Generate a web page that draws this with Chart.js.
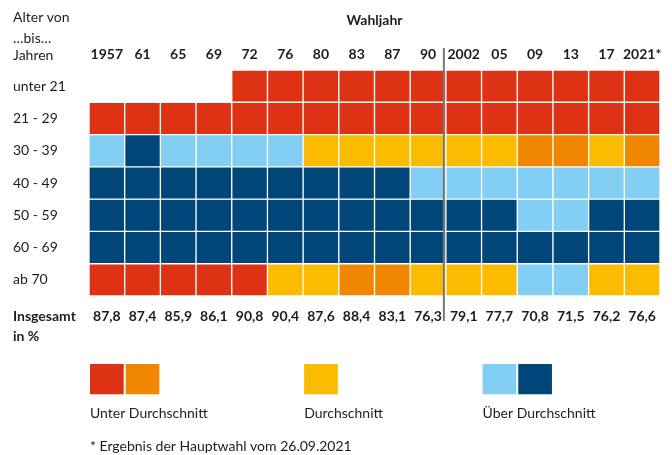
<!DOCTYPE html>
<html lang="de">
<head>
<meta charset="utf-8">
<title>Wahlbeteiligung nach Altersgruppen</title>
<script src="https://cdn.jsdelivr.net/npm/chart.js@4/dist/chart.umd.min.js"></script>
<style>
  html, body { margin: 0; padding: 0; background: #fff; }
  #wrap { width: 672px; height: 455px; }
</style>
</head>
<body>
<div id="wrap"><canvas id="chart" width="672" height="455"></canvas></div>
<script>
const YEARS = ['1957', '61', '65', '69', '72', '76', '80', '83', '87', '90', '2002', '05', '09', '13', '17', '2021*'];
const AGE_GROUPS = ['unter 21', '21 - 29', '30 - 39', '40 - 49', '50 - 59', '60 - 69', 'ab 70'];
const TOTALS = ['87,8', '87,4', '85,9', '86,1', '90,8', '90,4', '87,6', '88,4', '83,1', '76,3', '79,1', '77,7', '70,8', '71,5', '76,2', '76,6'];

// R/O = unter Durchschnitt, Y = Durchschnitt, L/D = über Durchschnitt, null = keine Wahlberechtigung
const ROW_U21   = [null, null, null, null, 'R', 'R', 'R', 'R', 'R', 'R', 'R', 'R', 'R', 'R', 'R', 'R'];
const ROW_21_29 = ['R', 'R', 'R', 'R', 'R', 'R', 'R', 'R', 'R', 'R', 'R', 'R', 'R', 'R', 'R', 'R'];
const ROW_30_39 = ['L', 'D', 'L', 'L', 'L', 'L', 'Y', 'Y', 'Y', 'Y', 'Y', 'Y', 'O', 'O', 'Y', 'O'];
const ROW_40_49 = ['D', 'D', 'D', 'D', 'D', 'D', 'D', 'D', 'D', 'L', 'L', 'L', 'L', 'L', 'L', 'L'];
const ROW_50_59 = ['D', 'D', 'D', 'D', 'D', 'D', 'D', 'D', 'D', 'D', 'D', 'D', 'L', 'L', 'D', 'D'];
const ROW_60_69 = ['D', 'D', 'D', 'D', 'D', 'D', 'D', 'D', 'D', 'D', 'D', 'D', 'D', 'D', 'D', 'D'];
const ROW_AB_70 = ['R', 'R', 'R', 'R', 'R', 'Y', 'Y', 'O', 'O', 'Y', 'Y', 'Y', 'L', 'L', 'Y', 'Y'];
const ROWS = [ROW_U21, ROW_21_29, ROW_30_39, ROW_40_49, ROW_50_59, ROW_60_69, ROW_AB_70];

const LEGEND_LABELS = ['Unter Durchschnitt', 'Durchschnitt', 'Über Durchschnitt'];
const LEGEND_CODES = [['R', 'O'], ['Y'], ['L', 'D']];

const COLORS = { R: '#dd3214', O: '#f18700', Y: '#fbbb00', L: '#82cff3', D: '#004678' };
const FONT = "Lato, 'Liberation Sans', sans-serif";
const TEXT = '#1d1d1b';

Chart.defaults.font.family = FONT;
Chart.defaults.font.size = 14;
Chart.defaults.color = TEXT;

// every cell is one unit of the stack; empty cells stay in place but invisible
const datasets = ROWS.map((row, i) => ({
    label: AGE_GROUPS[i],
    data: row.map(() => 1),
    backgroundColor: row.map(c => (c ? COLORS[c] : 'transparent')),
    borderColor: row.map(c => (c ? '#ffffff' : 'transparent')),
    borderWidth: 1,
    borderSkipped: false,
    barPercentage: 1,
    categoryPercentage: 1
}));

const noGrid = { display: false, drawTicks: false };

// text, separator and legend drawn around the grid
const extras = {
    id: 'extras',
    afterDatasetsDraw(chart) {
        const { ctx, chartArea, scales: { x, y } } = chart;
        const top = chartArea.top, bottom = chartArea.bottom;
        ctx.save();

        // line between 1990 and 2002
        const sepX = x.getPixelForValue(YEARS.indexOf('90') + 0.5) - 2;
        ctx.strokeStyle = '#787878';
        ctx.lineWidth = 2;
        ctx.beginPath();
        ctx.moveTo(sepX, top - 22);
        ctx.lineTo(sepX, bottom + 25);
        ctx.stroke();

        ctx.fillStyle = TEXT;
        ctx.textBaseline = 'middle';
        ctx.textAlign = 'left';
        ctx.font = `14px ${FONT}`;
        ctx.fillText('Alter von', 13, top - 53);
        ctx.fillText('\u2026bis\u2026', 13, top - 32);
        ctx.fillText('Jahren', 13, top - 15);

        ctx.font = `bold 14px ${FONT}`;
        ctx.fillText('Insgesamt', 13, bottom + 20);
        ctx.fillText('in %', 13, bottom + 40);

        // legend swatches aligned to the grid columns
        const legendCols = [0, 6, 11];
        const rowH = y.getPixelForValue(1) - y.getPixelForValue(0);
        const swTop = bottom + 68;
        LEGEND_CODES.forEach((codes, g) => {
            codes.forEach((c, k) => {
                const col = legendCols[g] + k;
                const l = x.getPixelForValue(col - 0.5) + 1;
                const r = x.getPixelForValue(col + 0.5) - 1;
                ctx.fillStyle = COLORS[c];
                ctx.fillRect(l, swTop, r - l, rowH - 2);
            });
            ctx.fillStyle = TEXT;
            ctx.font = `14px ${FONT}`;
            ctx.fillText(LEGEND_LABELS[g], x.getPixelForValue(legendCols[g] - 0.5) + 1, bottom + 117);
        });

        ctx.fillText('* Ergebnis der Hauptwahl vom 26.09.2021', x.getPixelForValue(-0.5) + 1, bottom + 150);
        ctx.restore();
    }
};

new Chart(document.getElementById('chart'), {
    type: 'bar',
    data: { labels: YEARS, datasets },
    plugins: [extras],
    options: {
        responsive: false,
        animation: false,
        layout: { padding: { left: 13, right: 12, top: 0, bottom: 0 } },
        plugins: { legend: { display: false }, tooltip: { enabled: false } },
        scales: {
            x: {
                type: 'category',
                position: 'top',
                stacked: true,
                offset: true,
                grid: noGrid,
                border: { display: false },
                ticks: { font: { weight: 'bold' }, padding: 7, autoSkip: false, maxRotation: 0 },
                title: { display: true, text: 'Wahljahr', font: { weight: 'bold' }, padding: { top: 12, bottom: 0 } },
                afterFit: s => { s.height = 70; }
            },
            x2: {
                type: 'category',
                labels: TOTALS,
                position: 'bottom',
                offset: true,
                grid: noGrid,
                border: { display: false },
                ticks: { font: { weight: 'bold' }, padding: 12, autoSkip: false, maxRotation: 0 },
                afterFit: s => { s.height = 159; }
            },
            y: {
                type: 'linear',
                stacked: true,
                reverse: true,
                min: 0,
                max: 7,
                grid: noGrid,
                border: { display: false },
                ticks: { crossAlign: 'far', padding: 0, callback: v => AGE_GROUPS[Math.floor(v)] },
                afterBuildTicks: s => { s.ticks = AGE_GROUPS.map((g, i) => ({ value: i + 0.5 })); },
                afterFit: s => { s.width = 76; }
            }
        }
    }
});
</script>
</body>
</html>
